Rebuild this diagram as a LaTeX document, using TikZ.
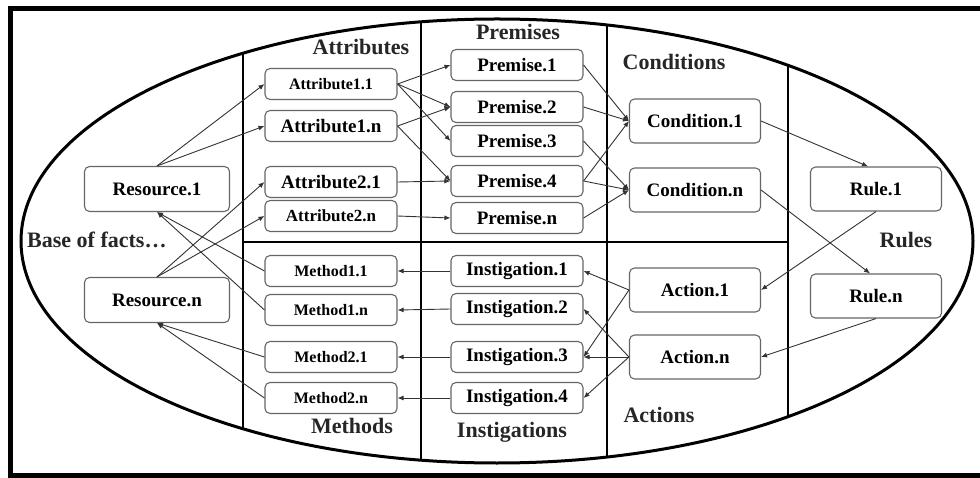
\documentclass[tikz,border=0pt]{standalone}
\usepackage{fontspec}
\setmainfont{Liberation Serif}
\usetikzlibrary{arrows.meta,calc}
\begin{document}
\begin{tikzpicture}[x=1pt,y=-1pt,
  box/.style={draw=black!60, line width=1.1pt, rounded corners=5pt, fill=white, inner sep=0pt, font=\fontsize{19}{19}\selectfont\bfseries},
  bigbox/.style={box, minimum width=131pt, minimum height=44pt},
  resbox/.style={box, minimum width=145pt, minimum height=45pt},
  midbox/.style={box, minimum width=132pt, minimum height=31pt},
  smalltxt/.style={font=\fontsize{16}{16}\selectfont\bfseries},
  lbl/.style={font=\fontsize{22}{22}\selectfont\bfseries, inner sep=0pt, text=black!85},
  conn/.style={draw=black!80, line width=0.9pt, -{Latex[length=6pt,width=5pt]}},
  sep/.style={line width=2.8pt}
]
\useasboundingbox (0,0) rectangle (980,478);
\fill[white] (0,0) rectangle (980,478);
% frame
\draw[line width=5pt] (10,9) rectangle (995,475);
% separators
\begin{scope}
  \clip (497,241) ellipse [x radius=476pt, y radius=222pt];
  \draw[sep] (243,0) -- (243,478);
  \draw[sep] (421,0) -- (421,478);
  \draw[sep] (607,0) -- (607,478);
  \draw[sep] (788,0) -- (788,478);
\end{scope}
\draw[sep] (243,242) -- (788,242);
\draw[line width=3pt] (497,241) ellipse [x radius=476pt, y radius=222pt];

% nodes
\node[resbox] (r1) at (157,189) {Resource.1};
\node[resbox] (rn) at (157,300) {Resource.n};

\node[midbox, smalltxt] (a11) at (331,84) {Attribute1.1};
\node[midbox] (a1n) at (331,126) {Attribute1.n};
\node[midbox] (a21) at (331,182) {Attribute2.1};
\node[midbox, font=\fontsize{17}{17}\selectfont\bfseries] (a2n) at (331,216) {Attribute2.n};

\node[midbox, smalltxt] (m11) at (331,271) {Method1.1};
\node[midbox, smalltxt] (m1n) at (331,310) {Method1.n};
\node[midbox, smalltxt] (m21) at (331,357) {Method2.1};
\node[midbox, smalltxt] (m2n) at (331,398) {Method2.n};

\node[midbox] (p1) at (517,65) {Premise.1};
\node[midbox] (p2) at (517,107) {Premise.2};
\node[midbox] (p3) at (517,141) {Premise.3};
\node[midbox] (p4) at (517,181) {Premise.4};
\node[midbox] (pn) at (517,218) {Premise.n};

\node[midbox] (i1) at (517,271) {Instigation.1};
\node[midbox] (i2) at (517,309) {Instigation.2};
\node[midbox] (i3) at (517,357) {Instigation.3};
\node[midbox] (i4) at (517,398) {Instigation.4};

\node[bigbox] (c1) at (695,121) {Condition.1};
\node[bigbox] (cn) at (695,190) {Condition.n};
\node[bigbox] (ac1) at (695,290) {Action.1};
\node[bigbox] (acn) at (695,357) {Action.n};
\node[bigbox] (ru1) at (876,189) {Rule.1};
\node[bigbox] (run) at (876,296) {Rule.n};

% connectors
\draw[conn] (r1.north) -- (a11.west);
\draw[conn] (r1.north) -- (a1n.west);
\draw[conn] (rn.north) -- (a21.west);
\draw[conn] (rn.north) -- (a2n.west);
\draw[conn] (m11.west) -- (r1.south);
\draw[conn] (m1n.west) -- (r1.south);
\draw[conn] (m21.west) -- (rn.south);
\draw[conn] (m2n.west) -- (rn.south);

\draw[conn] (a11.east) -- (p1.west);
\draw[conn] (a11.east) -- (p2.west);
\draw[conn] (a11.east) -- (p3.west);
\draw[conn] (a1n.east) -- (p2.west);
\draw[conn] (a1n.east) -- (p4.west);
\draw[conn] (a21.east) -- (p4.west);
\draw[conn] (a2n.east) -- (pn.west);

\draw[conn] (p1.east) -- (c1.west);
\draw[conn] (p2.east) -- (c1.west);
\draw[conn] (p4.east) -- (c1.west);
\draw[conn] (p3.east) -- (cn.west);
\draw[conn] (p4.east) -- (cn.west);
\draw[conn] (pn.east) -- (cn.west);

\draw[conn] (c1.east) -- ($(ru1.north)+(-8,0)$);
\draw[conn] (cn.east) -- ($(run.north)+(-6,0)$);
\draw[conn] (ru1.south) -- (ac1.east);
\draw[conn] (run.south) -- (acn.east);

\draw[conn] (ac1.west) -- (i1.east);
\draw[conn] (ac1.west) -- (i3.east);
\draw[conn] (acn.west) -- (i2.east);
\draw[conn] (acn.west) -- (i3.east);
\draw[conn] (acn.west) -- (i4.east);

\draw[conn] (i1.west) -- (m11.east);
\draw[conn] (i2.west) -- (m1n.east);
\draw[conn] (i3.west) -- (m21.east);
\draw[conn] (i4.west) -- (m2n.east);

% labels
\node[lbl] (lattr) at (361,47) {Attributes};
\node[lbl] (lprem) at (518,32) {Premises};
\node[lbl] (lcond) at (674,62) {Conditions};
\node[lbl] (lrules) at (906,240) {Rules};
\node[lbl, anchor=west] (lbase) at (27,240) {Base of facts\dots};
\node[lbl] (lmeth) at (352,426) {Methods};
\node[lbl] (linst) at (512,432) {Instigations};
\node[lbl] (lact) at (659,415) {Actions};
\end{tikzpicture}
\end{document}
